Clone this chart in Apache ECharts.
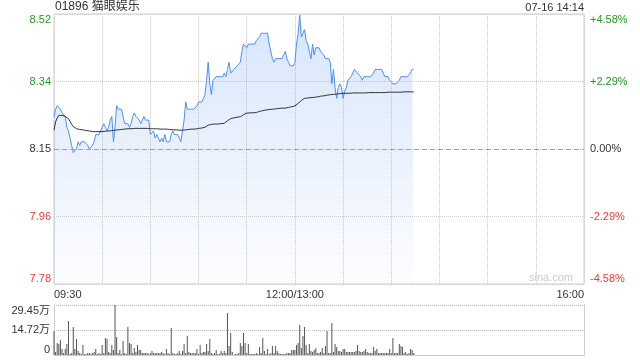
<!DOCTYPE html>
<html>
<head>
<meta charset="utf-8">
<script src="https://cdn.jsdelivr.net/npm/echarts@6/dist/echarts.min.js"></script>
<style>
html,body{margin:0;padding:0;background:#fff;}
#chart{width:640px;height:360px;}
</style>
</head>
<body>
<div id="chart"></div>
<script>
// ---- data ----
const titleText = '01896 猫眼娱乐';
const timeText = '07-16 14:14';
const prevClose = 8.15;
const xTickValues = [0, 150, 330];
const xTickLabels = ['09:30', '12:00/13:00', '16:00'];
const priceTickLabels = ['7.78', '7.96', '8.15', '8.34', '8.52'];
const pctTickLabels = ['-4.58%', '-2.29%', '0.00%', '+2.29%', '+4.58%'];
const volTickLabels = ['0', '14.72万', '29.45万'];

const prices = [
8.24,8.26,8.27,8.27,8.26,8.25,8.25,8.24,8.21,8.20,
8.18,8.16,8.14,8.14,8.15,8.17,8.16,8.17,8.17,8.17,
8.17,8.16,8.15,8.15,8.16,8.17,8.19,8.19,8.19,8.20,
8.21,8.22,8.21,8.20,8.21,8.23,8.24,8.17,8.21,8.27,
8.26,8.26,8.26,8.24,8.22,8.22,8.22,8.21,8.22,8.24,
8.25,8.24,8.24,8.23,8.22,8.23,8.24,8.23,8.23,8.23,
8.19,8.19,8.20,8.18,8.19,8.18,8.17,8.18,8.17,8.19,
8.17,8.17,8.17,8.19,8.20,8.19,8.19,8.19,8.18,8.17,
8.20,8.23,8.28,8.26,8.26,8.26,8.26,8.26,8.26,8.27,
8.28,8.28,8.28,8.29,8.30,8.34,8.39,8.33,8.30,8.34,
8.34,8.35,8.35,8.35,8.35,8.35,8.36,8.35,8.37,8.39,
8.36,8.36,8.37,8.37,8.38,8.38,8.39,8.42,8.44,8.44,
8.43,8.44,8.44,8.44,8.44,8.44,8.45,8.45,8.46,8.47,
8.47,8.47,8.47,8.47,8.44,8.42,8.40,8.39,8.40,8.40,
8.40,8.40,8.40,8.41,8.42,8.40,8.39,8.38,8.38,8.38,
8.39,8.44,8.47,8.52,8.46,8.47,8.48,8.45,8.44,8.42,
8.40,8.44,8.41,8.43,8.43,8.43,8.42,8.42,8.41,8.40,
8.40,8.40,8.39,8.33,8.37,8.32,8.29,8.32,8.33,8.32,
8.29,8.31,8.32,8.34,8.34,8.35,8.36,8.37,8.37,8.36,
8.36,8.35,8.34,8.35,8.35,8.35,8.35,8.35,8.35,8.36,
8.37,8.37,8.37,8.37,8.37,8.36,8.35,8.35,8.35,8.34,
8.34,8.33,8.33,8.33,8.33,8.34,8.35,8.35,8.35,8.35,
8.35,8.35,8.36,8.37,8.37
];

const avgPrices = [
8.202,8.225,8.236,8.243,8.244,8.243,8.241,8.240,8.238,8.234,
8.226,8.218,8.212,8.208,8.206,8.205,8.204,8.203,8.203,8.202,
8.201,8.200,8.200,8.199,8.198,8.198,8.198,8.198,8.198,8.198,
8.198,8.198,8.199,8.199,8.200,8.200,8.201,8.201,8.202,8.203,
8.203,8.204,8.204,8.205,8.205,8.205,8.206,8.206,8.206,8.206,
8.207,8.207,8.207,8.207,8.207,8.207,8.207,8.207,8.207,8.207,
8.206,8.206,8.206,8.206,8.206,8.206,8.205,8.205,8.205,8.205,
8.205,8.204,8.204,8.204,8.203,8.203,8.203,8.202,8.202,8.202,
8.202,8.203,8.203,8.204,8.204,8.204,8.205,8.205,8.205,8.206,
8.207,8.208,8.208,8.209,8.210,8.213,8.216,8.217,8.218,8.218,
8.219,8.219,8.219,8.219,8.220,8.220,8.221,8.224,8.228,8.232,
8.234,8.235,8.236,8.237,8.238,8.238,8.239,8.242,8.245,8.248,
8.249,8.249,8.250,8.250,8.250,8.250,8.251,8.253,8.254,8.255,
8.256,8.257,8.258,8.258,8.259,8.260,8.260,8.261,8.261,8.262,
8.262,8.262,8.263,8.263,8.263,8.264,8.265,8.266,8.267,8.268,
8.269,8.272,8.276,8.280,8.284,8.287,8.290,8.291,8.291,8.292,
8.292,8.293,8.293,8.293,8.294,8.295,8.296,8.296,8.297,8.298,
8.299,8.299,8.300,8.300,8.301,8.301,8.302,8.302,8.303,8.303,
8.304,8.304,8.304,8.304,8.304,8.304,8.305,8.305,8.305,8.305,
8.305,8.305,8.305,8.305,8.305,8.306,8.306,8.306,8.306,8.306,
8.306,8.306,8.306,8.306,8.306,8.306,8.306,8.306,8.307,8.307,
8.307,8.307,8.307,8.307,8.307,8.307,8.307,8.307,8.308,8.308,
8.308,8.308,8.308,8.308,8.308
];

// volume in 万 (10k shares)
const volumes = [
14.1,1.8,7.1,6.5,8.8,3.5,1.2,3.5,6.5,20.0,
0.6,1.2,16.5,3.5,9.4,2.4,1.2,0.6,5.9,0.6,
0.6,1.2,1.2,0.6,1.2,1.8,3.5,0.6,1.2,0.6,
5.9,1.2,10.0,9.4,1.8,1.2,5.9,2.9,29.4,10.6,
1.2,2.9,0.6,8.2,1.2,0.6,16.5,7.1,6.5,1.2,
4.1,1.8,5.9,2.9,2.9,1.2,1.2,1.2,1.2,0.6,
1.2,2.4,1.2,1.2,1.2,1.2,1.2,1.8,1.2,0.6,
3.5,1.2,0.6,15.9,1.2,0.6,0.6,1.2,2.4,0.6,
2.4,6.5,1.2,11.2,1.8,1.2,1.2,1.2,1.2,3.5,
0.6,5.9,1.2,1.8,1.8,6.5,2.4,9.4,1.2,0.6,
1.2,2.9,0.6,0.6,2.4,1.2,2.4,1.2,24.7,5.3,
13.0,1.8,0.2,0.6,0.6,1.2,7.1,5.3,13.0,7.1,
1.2,6.5,0.6,0.6,0.6,0.6,1.2,0.6,4.7,1.2,
10.0,2.4,0.6,3.5,0.6,1.2,5.3,1.2,5.3,2.4,
1.2,0.6,0.6,0.6,0.6,1.2,1.2,1.2,2.9,2.9,
2.9,5.9,7.1,17.7,4.1,11.2,16.5,5.9,1.2,6.5,
2.4,1.8,2.9,4.1,1.2,1.2,1.8,4.1,1.2,5.3,
14.1,1.2,1.2,18.8,1.8,6.5,4.7,2.4,2.4,1.8,
3.5,3.5,1.8,1.8,1.8,1.8,1.8,1.8,2.4,5.9,
2.4,1.8,1.8,2.4,3.5,1.8,1.2,1.2,1.2,4.7,
2.4,3.5,1.2,1.2,1.2,1.2,1.2,1.2,1.2,3.5,
1.2,10.0,1.2,1.2,1.2,6.5,5.3,4.7,1.2,1.8,
0.6,1.2,3.5,2.9,1.2
];

// ---- chart ----
const FONT = '"Liberation Sans", Arial, "Noto Sans CJK SC", sans-serif';
const GREEN = '#1ea01e', RED = '#f03a3a', DARK = '#333';
const toPct = p => (p / prevClose - 1) * 100;
const priceData = prices.map((p, i) => [i, toPct(p)]);
const avgData = avgPrices.map((p, i) => [i, toPct(p)]);
const volData = volumes.map((v, i) => [i, v]);

const pctIndex = v => Math.round((v + 4.58) / 2.29);
const richColors = {
  up: {color: GREEN, fontSize: 11, fontFamily: FONT},
  dn: {color: RED, fontSize: 11, fontFamily: FONT},
  zero: {color: DARK, fontSize: 11, fontFamily: FONT}
};
const styleKey = idx => idx > 2 ? 'up' : (idx < 2 ? 'dn' : 'zero');

const chart = echarts.init(document.getElementById('chart'), null, {renderer: 'canvas'});
chart.setOption({
  animation: false,
  textStyle: {fontFamily: FONT},
  grid: [
    {left: 54, top: 14, width: 530, height: 270, show: true, borderColor: '#ccc', borderWidth: 1},
    {left: 54, top: 305, width: 530, height: 50}
  ],
  xAxis: [
    {
      gridIndex: 0, type: 'value', min: 0, max: 330, interval: 30,
      axisLine: {show: false}, axisTick: {show: false},
      splitLine: {show: true, lineStyle: {color: '#ccc', type: 'dotted'}},
      axisLabel: {
        margin: 5, fontSize: 11, color: DARK, fontFamily: FONT,
        showMinLabel: true, showMaxLabel: true,
        alignMinLabel: 'left', alignMaxLabel: 'right',
        formatter: v => {
          const k = xTickValues.indexOf(Math.round(v));
          return k >= 0 ? xTickLabels[k] : '';
        }
      }
    },
    {
      gridIndex: 1, type: 'value', min: 0, max: 330,
      axisLine: {show: true, onZero: false, lineStyle: {color: '#ccc'}},
      axisTick: {show: false}, splitLine: {show: false}, axisLabel: {show: false}
    }
  ],
  yAxis: [
    {
      gridIndex: 0, type: 'value', min: -4.58, max: 4.58, interval: 2.29, position: 'left',
      axisLine: {show: false}, axisTick: {show: false},
      splitLine: {show: true, lineStyle: {color: '#ccc', type: 'dotted'}},
      axisLabel: {
        margin: 3, fontSize: 11,
        verticalAlignMinLabel: 'bottom', verticalAlignMaxLabel: 'top',
        formatter: v => { const k = pctIndex(v); return '{' + styleKey(k) + '|' + priceTickLabels[k] + '}'; },
        rich: richColors
      }
    },
    {
      gridIndex: 0, type: 'value', min: -4.58, max: 4.58, interval: 2.29, position: 'right',
      axisLine: {show: false}, axisTick: {show: false}, splitLine: {show: false},
      axisLabel: {
        margin: 6, fontSize: 11,
        verticalAlignMinLabel: 'bottom', verticalAlignMaxLabel: 'top',
        formatter: v => { const k = pctIndex(v); return '{' + styleKey(k) + '|' + pctTickLabels[k] + '}'; },
        rich: richColors
      }
    },
    {
      gridIndex: 1, type: 'value', min: 0, max: 29.45, interval: 14.725, position: 'left',
      axisLine: {show: true, lineStyle: {color: '#ccc'}}, axisTick: {show: false},
      splitLine: {show: true, lineStyle: {color: '#bbb', type: 'dotted'}},
      axisLabel: {
        margin: 4, fontSize: 11, color: DARK, fontFamily: FONT,
        verticalAlignMinLabel: 'bottom', verticalAlignMaxLabel: 'top',
        formatter: v => volTickLabels[Math.round(v / 14.725)]
      }
    },
    {
      gridIndex: 1, type: 'value', min: 0, max: 29.45, position: 'right',
      axisLine: {show: true, lineStyle: {color: '#ccc'}}, axisTick: {show: false},
      splitLine: {show: false}, axisLabel: {show: false}
    }
  ],
  series: [
    {
      type: 'line', xAxisIndex: 0, yAxisIndex: 0, data: priceData,
      showSymbol: false, symbol: 'none',
      lineStyle: {color: '#4e8ef5', width: 1},
      areaStyle: {
        origin: 'start',
        color: new echarts.graphic.LinearGradient(0, 0, 0, 1, [
          {offset: 0, color: 'rgba(80,140,240,0.32)'},
          {offset: 1, color: 'rgba(80,140,240,0.02)'}
        ])
      },
      markLine: {
        silent: true, symbol: ['none', 'none'],
        label: {show: false},
        lineStyle: {color: '#e08c64', type: [5, 3], width: 1, opacity: 1},
        data: [{yAxis: 0}]
      },
      z: 3
    },
    {
      type: 'line', xAxisIndex: 0, yAxisIndex: 0, data: avgData,
      showSymbol: false, symbol: 'none',
      lineStyle: {color: '#333', width: 1}, z: 4
    },
    {
      type: 'bar', xAxisIndex: 1, yAxisIndex: 2, data: volData,
      barWidth: 1, itemStyle: {color: '#555'}
    }
  ],
  graphic: [
    {type: 'text', left: 55, top: 1, style: {text: titleText, fontSize: 12, fill: DARK, fontFamily: FONT}},
    {type: 'text', right: 56, top: 2, style: {text: timeText, fontSize: 11, fill: DARK, fontFamily: FONT}},
    {type: 'text', right: 67, top: 272, style: {text: 'sina.com', fontSize: 11, fill: '#ccc', fontFamily: FONT}}
  ]
});
</script>
</body>
</html>
